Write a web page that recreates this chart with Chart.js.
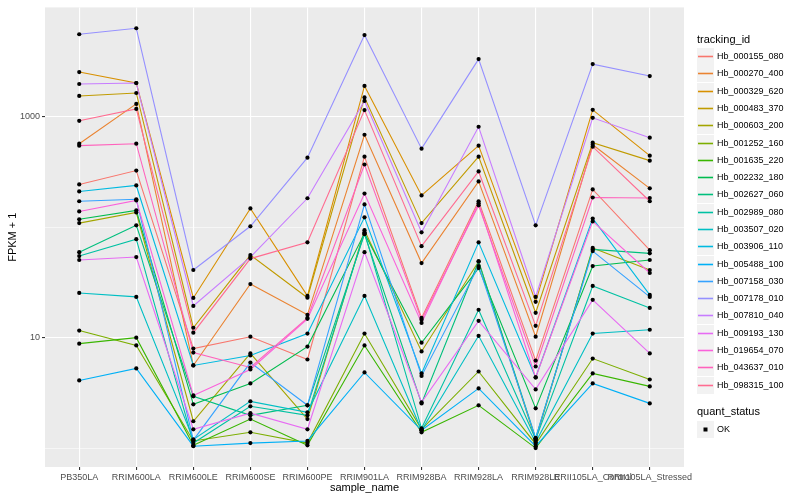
<!DOCTYPE html>
<html>
<head>
<meta charset="utf-8">
<script src="https://cdn.jsdelivr.net/npm/chart.js@4.4.1/dist/chart.umd.min.js"></script>
<style>
body { margin: 0; background: #fff; }
#wrap { position: relative; width: 800px; height: 500px; font-family: "Liberation Sans", Arial, sans-serif; }
#legend div { position: absolute; white-space: nowrap; }
</style>
</head>
<body>
<div id="wrap">
  <canvas id="grafico" width="800" height="500"></canvas>
  <div id="legend"></div>
</div>
<script>
const categories = ['PB350LA', 'RRIM600LA', 'RRIM600LE', 'RRIM600SE', 'RRIM600PE', 'RRIM901LA',
    'RRIM928BA', 'RRIM928LA', 'RRIM928LE', 'RRII105LA_Control', 'RRII105LA_Stressed'];

const trackingIds = ['Hb_000155_080', 'Hb_000270_400', 'Hb_000329_620', 'Hb_000483_370', 'Hb_000603_200',
    'Hb_001252_160', 'Hb_001635_220', 'Hb_002232_180', 'Hb_002627_060', 'Hb_002989_080',
    'Hb_003507_020', 'Hb_003906_110', 'Hb_005488_100', 'Hb_007158_030', 'Hb_007178_010',
    'Hb_007810_040', 'Hb_009193_130', 'Hb_019654_070', 'Hb_043637_010', 'Hb_098315_100'];

const colores = ['#F8766D', '#EA8331', '#D89000', '#C09B00', '#A3A500', '#7CAE00', '#39B600', '#00BB4E',
    '#00BF7D', '#00C1A3', '#00BFC4', '#00BAE0', '#00B0F6', '#35A2FF', '#9590FF', '#C77CFF',
    '#E76BF3', '#FA62DB', '#FF62BC', '#FF6C91'];

// FPKM + 1 por muestra (mismo orden que categories)
const hb_000155_080 = [244, 326, 7.96, 10.2, 6.34, 436, 15.1, 172, 6.2, 220, 62];
const hb_000270_400 = [571, 1309, 5.6, 30.6, 16.1, 688, 47.4, 260, 10.2, 559, 225];
const hb_000329_620 = [2543, 2025, 22.9, 148, 23.9, 1903, 194, 548, 21.1, 1156, 445];
const hb_000483_370 = [1545, 1644, 12.3, 56, 23, 1500, 109, 436, 16.8, 583, 401];
const hb_000603_200 = [109, 136, 1.75, 7.2, 1.83, 94, 7.5, 49, 1.18, 65, 41];
const hb_001252_160 = [11.6, 8.5, 1.16, 1.39, 1.11, 10.9, 1.48, 4.94, 1.09, 6.47, 4.18];
const hb_001635_220 = [8.83, 10, 1.06, 1.83, 1.06, 8.5, 1.39, 2.44, 1.0, 4.74, 3.62];
const hb_002232_180 = [118, 142, 2.49, 3.85, 8.3, 88, 9.0, 42.7, 2.29, 44.5, 50.5];
const hb_002627_060 = [59.5, 104, 2.94, 1.98, 2.44, 86.5, 2.54, 49, 1.23, 63, 58];
const hb_002989_080 = [54.8, 78, 1.11, 2.39, 1.98, 90, 1.51, 17.9, 1.2, 29.4, 18.6];
const hb_003507_020 = [25.4, 23.4, 1.2, 2.65, 2.11, 23.9, 1.45, 10.4, 1.13, 10.9, 11.8];
const hb_003906_110 = [211, 239, 5.6, 6.9, 10.9, 123, 4.74, 73, 4.36, 120, 24.4];
const hb_005488_100 = [4.1, 5.26, 1.04, 1.11, 1.16, 4.84, 1.45, 3.47, 1.04, 3.85, 2.54];
const hb_007158_030 = [172, 179, 1.18, 5.95, 2.44, 161, 4.5, 44.5, 1.23, 60.8, 23.4];
const hb_007178_010 = [5598, 6339, 41, 102, 427, 5500, 515, 3331, 104, 3002, 2341];
const hb_007810_040 = [1983, 2025, 19.4, 53.7, 183, 1393, 90, 813, 23.4, 979, 647];
const hb_009193_130 = [50.5, 53.7, 1.48, 2.07, 1.48, 59.5, 2.6, 14.2, 3.4, 22, 7.2];
const hb_019654_070 = [139, 175, 3.0, 5.15, 14.8, 202, 13.6, 165, 4.36, 113, 38.5];
const hb_043637_010 = [548, 571, 7.33, 5.37, 15.1, 370, 14.5, 158, 5.48, 186, 184];
const hb_098315_100 = [920, 1180, 11.1, 52, 73, 1150, 67.4, 320, 12.8, 537, 172];

const series = [hb_000155_080, hb_000270_400, hb_000329_620, hb_000483_370, hb_000603_200,
    hb_001252_160, hb_001635_220, hb_002232_180, hb_002627_060, hb_002989_080,
    hb_003507_020, hb_003906_110, hb_005488_100, hb_007158_030, hb_007178_010,
    hb_007810_040, hb_009193_130, hb_019654_070, hb_043637_010, hb_098315_100];

const yTicks = [1, 10, 100, 1000];
const yLabeled = [10, 1000];

const fuente = '"Liberation Sans", Arial, sans-serif';

const datasets = series.map((vals, i) => ({
    label: trackingIds[i],
    data: vals.map((v, j) => ({ x: j, y: v })),
    borderColor: colores[i],
    borderWidth: 1.1,
    pointRadius: 0,
    tension: 0,
    order: 20 - i
}));

// puntos negros encima de todas las lineas
datasets.push({
    label: 'OK',
    data: series.flatMap(vals => vals.map((v, j) => ({ x: j, y: v }))),
    showLine: false,
    pointRadius: 2.1,
    pointBackgroundColor: '#000',
    pointBorderWidth: 0,
    order: 0
});

// posiciones de la leyenda
const keyLeft = 697, keyTop0 = 48.2, keyStep = 17.28, okTop = 420.5;

const fondoPanel = {
    id: 'fondoPanel',
    beforeDraw(chart) {
        const a = chart.chartArea;
        const c = chart.ctx;
        c.save();
        c.fillStyle = '#EBEBEB';
        c.fillRect(a.left, a.top, a.right - a.left, a.bottom - a.top);
        c.restore();
    },
    afterDraw(chart) {
        // cajas de la leyenda
        const c = chart.ctx;
        c.save();
        colores.forEach((col, i) => {
            const top = Math.round(keyTop0 + i * keyStep);
            c.fillStyle = '#F2F2F2';
            c.fillRect(keyLeft, top, 17, 17);
            c.strokeStyle = col;
            c.lineWidth = 1.6;
            c.beginPath();
            c.moveTo(keyLeft + 1, top + 8.5);
            c.lineTo(keyLeft + 16, top + 8.5);
            c.stroke();
        });
        c.fillStyle = '#F2F2F2';
        c.fillRect(keyLeft, Math.round(okTop), 17, 17);
        c.fillStyle = '#000';
        c.fillRect(keyLeft + 6.5, Math.round(okTop) + 6.5, 4, 4);
        c.restore();
    }
};

const ctx = document.getElementById('grafico').getContext('2d');
const chart = new Chart(ctx, {
    type: 'line',
    data: { datasets },
    plugins: [fondoPanel],
    options: {
        responsive: false,
        animation: false,
        layout: { padding: { top: 5, right: 116, left: 0, bottom: 0 } },
        plugins: { legend: { display: false }, tooltip: { enabled: false } },
        scales: {
            x: {
                type: 'linear',
                min: -0.6,
                max: 10.6,
                afterBuildTicks: s => { s.ticks = categories.map((c, i) => ({ value: i })); },
                afterFit: s => { s.height = 33; },
                border: { display: false },
                grid: { color: '#FFFFFF', lineWidth: 1.1, tickLength: 3, tickColor: '#333333', tickWidth: 1.1 },
                ticks: {
                    autoSkip: false, maxRotation: 0, minRotation: 0, padding: 2,
                    color: '#4D4D4D', font: { family: fuente, size: 9 },
                    callback: v => categories[v]
                },
                title: { display: true, text: 'sample_name', color: '#000', font: { family: fuente, size: 11 }, padding: { top: 0, bottom: 5 } }
            },
            y: {
                type: 'logarithmic',
                min: 0.674,
                max: 9795,
                afterBuildTicks: s => { s.ticks = yTicks.map(v => ({ value: v })); },
                afterFit: s => { s.width = 45; },
                border: { display: false },
                grid: {
                    color: '#FFFFFF',
                    lineWidth: c => (c.tick && yLabeled.includes(c.tick.value)) ? 1.1 : 0.55,
                    tickLength: 3,
                    tickWidth: 1.1,
                    tickColor: c => (c.tick && yLabeled.includes(c.tick.value)) ? '#333333' : 'rgba(0,0,0,0)'
                },
                ticks: {
                    autoSkip: false, padding: 2,
                    color: '#4D4D4D', font: { family: fuente, size: 9 },
                    callback: v => yLabeled.includes(v) ? String(v) : ''
                },
                title: { display: true, text: 'FPKM + 1', color: '#000', font: { family: fuente, size: 11 }, padding: { top: 6, bottom: 0 } }
            }
        }
    }
});

// textos de la leyenda
const leyenda = document.getElementById('legend');
function texto(top, txt, left, size) {
    const d = document.createElement('div');
    d.style.left = left + 'px';
    d.style.top = Math.round(top) + 'px';
    d.style.fontSize = size + 'px';
    d.style.lineHeight = size + 'px';
    d.textContent = txt;
    leyenda.appendChild(d);
}
texto(34, 'tracking_id', keyLeft, 11);
trackingIds.forEach((id, i) => texto(keyTop0 + i * keyStep + 4, id, 717, 9));
texto(406, 'quant_status', keyLeft, 11);
texto(okTop + 4, 'OK', 717, 9);
</script>
</body>
</html>
